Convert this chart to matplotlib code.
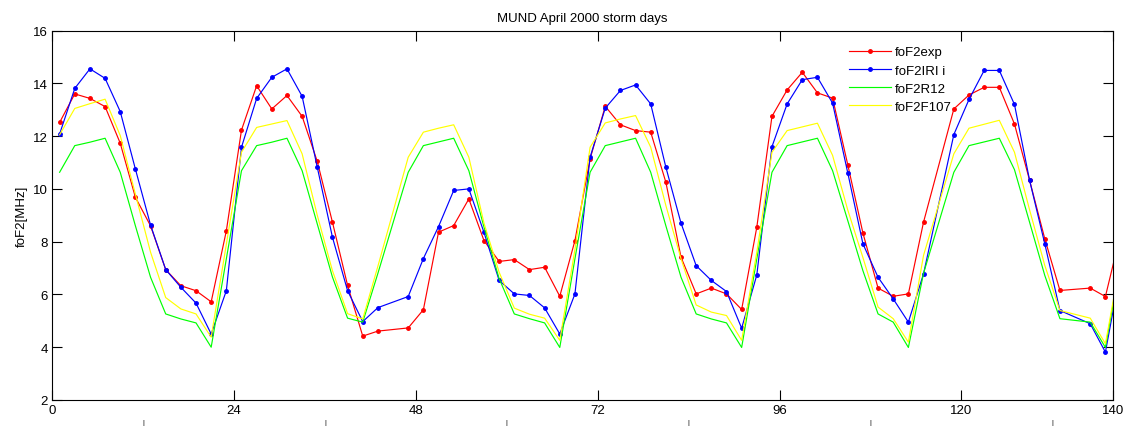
import matplotlib
matplotlib.use("Agg")
import matplotlib.pyplot as plt

plt.rcParams['font.family'] = ['Liberation Sans', 'DejaVu Sans']
plt.rcParams['font.size'] = 9.5

# sample positions (hours), some samples are missing
hours = [1, 3, 5, 7, 9, 11, 13, 15, 17, 19, 21, 23, 25, 27, 29, 31, 33, 35, 37, 39, 41, 43,
         47, 49, 51, 53, 55, 57, 59, 61, 63, 65, 67, 69, 71, 73, 75, 77, 79, 81, 83, 85, 87,
         89, 91, 93, 95, 97, 99, 101, 103, 105, 107, 109, 111, 113, 115,
         119, 121, 123, 125, 127, 129, 131, 133,
         137, 139, 141]

fof2_exp = [12.52, 13.6, 13.43, 13.12, 11.73, 9.68, 8.6, 6.94, 6.33, 6.14, 5.72, 8.41, 12.23,
            13.91, 13.03, 13.54, 12.75, 11.04, 8.74, 6.34, 4.42, 4.61,
            4.73, 5.42, 8.36, 8.61, 9.62, 8.04, 7.25, 7.32, 6.94, 7.03, 5.93, 8.04, 11.14, 13.13,
            12.43, 12.21, 12.15, 10.25, 7.41, 6.02, 6.24, 6.02, 5.43, 8.55, 12.75, 13.75, 14.42,
            13.64, 13.44, 10.92, 8.33, 6.24, 5.93, 6.02, 8.74,
            13.03, 13.56, 13.85, 13.85, 12.46, 10.32, 8.11, 6.15,
            6.24, 5.92, 8.3]

fof2_iri = [12.08, 13.81, 14.55, 14.19, 12.93, 10.75, 8.63, 6.94, 6.27, 5.67, 4.5, 6.14, 11.58,
            13.43, 14.23, 14.55, 13.51, 10.82, 8.17, 6.14, 4.97, 5.5,
            5.92, 7.36, 8.57, 9.94, 10.0, 8.35, 6.53, 6.02, 5.96, 5.49, 4.5, 6.02, 11.2, 13.06,
            13.73, 13.94, 13.22, 10.82, 8.7, 7.09, 6.53, 6.11, 4.72, 6.74, 11.6, 13.22, 14.14,
            14.23, 13.25, 10.61, 7.92, 6.65, 5.83, 4.95, 6.78,
            12.06, 13.39, 14.49, 14.49, 13.2, 10.32, 7.92, 5.39,
            4.89, 3.81, 6.9]

fof2_r12 = [10.63, 11.64, 11.77, 11.92, 10.63, 8.6, 6.65, 5.26, 5.07, 4.92, 4.0, 7.35, 10.69,
            11.64, 11.77, 11.92, 10.69, 8.67, 6.66, 5.1, 4.95, 6.8,
            10.63, 11.64, 11.78, 11.92, 10.69, 8.55, 6.6, 5.26, 5.08, 4.92, 3.99, 7.35, 10.63,
            11.64, 11.78, 11.92, 10.63, 8.6, 6.65, 5.26, 5.07, 4.92, 3.99, 7.35, 10.63, 11.64,
            11.78, 11.92, 10.69, 8.8, 6.9, 5.26, 4.95, 3.99, 6.8,
            10.63, 11.64, 11.78, 11.92, 10.73, 8.73, 6.72, 5.08,
            4.95, 3.99, 7.2]

fof2_f107 = [12.05, 13.05, 13.23, 13.4, 12.02, 9.8, 7.6, 5.88, 5.45, 5.26, 4.38, 7.9, 11.39,
             12.33, 12.46, 12.59, 11.33, 9.0, 6.9, 5.27, 5.07, 7.07,
             11.2, 12.15, 12.3, 12.43, 11.2, 8.7, 6.84, 5.48, 5.25, 5.1, 4.26, 7.7, 11.58,
             12.5, 12.65, 12.78, 11.58, 9.37, 7.35, 5.6, 5.33, 5.2, 4.26, 7.6, 11.39, 12.21,
             12.35, 12.49, 11.27, 9.2, 7.4, 5.52, 5.08, 4.19, 7.48,
             11.33, 12.3, 12.45, 12.6, 11.39, 9.2, 7.1, 5.39,
             5.1, 4.13, 7.3]

xticks = [0, 24, 48, 72, 96, 120, 140]
half_days = [12, 36, 60, 84, 108, 132]

fig = plt.figure(figsize=(11.24, 4.27), dpi=100)
ax = fig.add_axes([0.0463, 0.061, 0.9439, 0.865])

ax.plot(hours, fof2_exp, color='#ff0000', marker='.', ms=5, lw=0.85, label='foF2exp')
ax.plot(hours, fof2_iri, color='#0000ff', marker='.', ms=5, lw=0.85, label='foF2IRI i')
ax.plot(hours, fof2_r12, color='#00ff00', lw=0.85, label='foF2R12')
ax.plot(hours, fof2_f107, color='#ffff00', lw=0.85, label='foF2F107')

ax.set_xlim(0, 140)
ax.set_ylim(2, 16)
ax.set_xticks(xticks)
ax.set_yticks(range(2, 17, 2))
# small marks printed under the axis at half days
ax.set_xticks(half_days, minor=True)
ax.set_xticklabels(['|'] * len(half_days), minor=True, fontsize=5)
ax.tick_params(axis='x', which='minor', length=0, pad=14)
ax.tick_params(which='major', direction='in', length=7, top=True, right=True, width=0.8, pad=3)
for s in ax.spines.values():
    s.set_linewidth(0.8)

ax.set_title('MUND April 2000 storm days', fontsize=9.5, pad=7)
ax.set_ylabel('foF2[MHz]', labelpad=4)

ax.legend(loc='upper left', bbox_to_anchor=(0.74, 0.99), frameon=False,
          handlelength=3.2, handletextpad=0.3, labelspacing=0.45, fontsize=9.5)

fig.savefig('out.png', dpi=100)
